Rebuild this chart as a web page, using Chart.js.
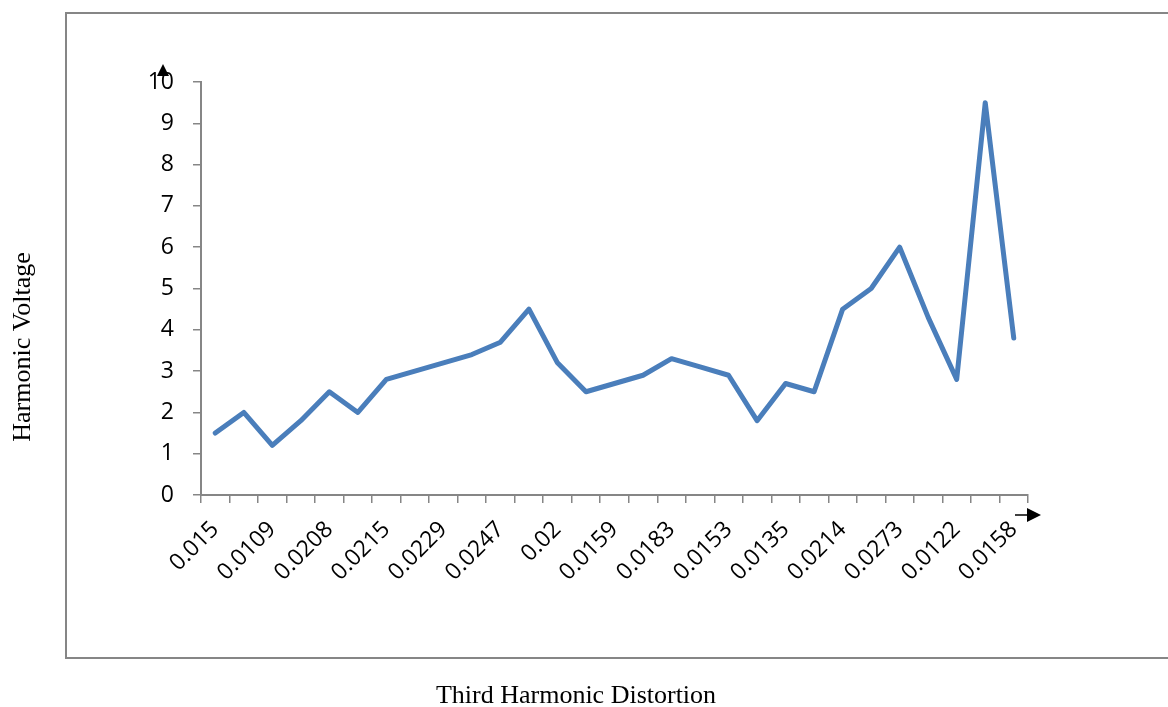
<!DOCTYPE html>
<html>
<head>
<meta charset="utf-8">
<script src="https://cdn.jsdelivr.net/npm/chart.js@4/dist/chart.umd.min.js"></script>
<style>
  body { margin: 0; background: #fff; }
  #wrap { width: 1168px; height: 707px; }
</style>
</head>
<body>
<div id="wrap"><canvas id="grafica" width="1168" height="707"></canvas></div>
<script>
// categories (only every other label is printed on the axis)
var categorias = ['0.015', '', '0.0109', '', '0.0208', '', '0.0215', '', '0.0229', '', '0.0247', '', '0.02', '',
    '0.0159', '', '0.0183', '', '0.0153', '', '0.0135', '', '0.0214', '', '0.0273', '', '0.0122', '', '0.0158'];
var voltaje = [1.5, 2.0, 1.2, 1.8, 2.5, 2.0, 2.8, 3.0, 3.2, 3.4, 3.7, 4.5, 3.2, 2.5, 2.7, 2.9, 3.3, 3.1, 2.9,
    1.8, 2.7, 2.5, 4.5, 5.0, 6.0, 4.3, 2.8, 9.5, 3.8];
var ticksY = [0, 1, 2, 3, 4, 5, 6, 7, 8, 9, 10];
var tituloX = 'Third Harmonic Distortion';
var tituloY = 'Harmonic Voltage';

var gris = '#868686';

// frame, arrows and axis titles
var decorado = {
    id: 'decorado',
    beforeDraw: function(chart) {
        var ctx = chart.ctx;
        ctx.save();
        ctx.strokeStyle = gris;
        ctx.lineWidth = 2;
        ctx.strokeRect(66, 13, 1120, 645);
        ctx.restore();
    },
    afterDraw: function(chart) {
        var ctx = chart.ctx;
        var x = chart.scales.x, y = chart.scales.y;
        ctx.save();
        ctx.fillStyle = '#000';
        ctx.strokeStyle = '#000';
        // up arrow
        var ax = y.right - 38, ay = y.getPixelForValue(10) - 18;
        ctx.beginPath();
        ctx.moveTo(ax, ay);
        ctx.lineTo(ax + 6, ay + 12);
        ctx.lineTo(ax - 6, ay + 12);
        ctx.closePath();
        ctx.fill();
        // right arrow
        var bx = x.right + 13, by = y.bottom + 20;
        ctx.lineWidth = 1.5;
        ctx.beginPath();
        ctx.moveTo(x.right - 13, by);
        ctx.lineTo(bx - 12, by);
        ctx.stroke();
        ctx.beginPath();
        ctx.moveTo(bx, by);
        ctx.lineTo(bx - 14, by - 7);
        ctx.lineTo(bx - 14, by + 7);
        ctx.closePath();
        ctx.fill();
        // titles
        ctx.font = '26px "Liberation Serif", "Times New Roman", serif';
        ctx.textAlign = 'center';
        ctx.textBaseline = 'middle';
        ctx.fillText(tituloX, 576, 696);
        ctx.translate(23, 347);
        ctx.rotate(-Math.PI / 2);
        ctx.fillText(tituloY, 0, 0);
        ctx.restore();
    }
};

var ctx = document.getElementById('grafica').getContext('2d');
var grafica = new Chart(ctx, {
    type: 'line',
    data: {
        labels: categorias,
        datasets: [{
            label: tituloY,
            data: voltaje,
            borderColor: '#4A7EBB',
            borderWidth: 5,
            borderJoinStyle: 'round',
            borderCapStyle: 'round',
            pointRadius: 0,
            fill: false,
            tension: 0
        }]
    },
    options: {
        responsive: false,
        animation: false,
        layout: { padding: { top: 82, right: 140, bottom: 0, left: 0 } },
        plugins: { legend: { display: false }, tooltip: { enabled: false } },
        scales: {
            x: {
                offset: true,
                border: { color: gris, width: 2 },
                grid: { offset: true, drawOnChartArea: false, drawTicks: true, tickLength: 8, color: gris, lineWidth: 1.5 },
                ticks: {
                    autoSkip: false,
                    minRotation: 45,
                    maxRotation: 45,
                    padding: 13,
                    color: '#000',
                    font: { family: '"Open Sans"', size: 23 }
                },
                afterFit: function(scale) { scale.height = 212; }
            },
            y: {
                min: 0,
                max: 10,
                afterBuildTicks: function(scale) { scale.ticks = ticksY.map(v => ({ value: v })); },
                border: { color: gris, width: 2 },
                grid: { drawOnChartArea: false, drawTicks: true, tickLength: 8, color: gris, lineWidth: 1.5 },
                ticks: {
                    padding: 19,
                    color: '#000',
                    font: { family: '"Open Sans"', size: 23 }
                },
                afterFit: function(scale) { scale.width = 201; }
            }
        }
    },
    plugins: [decorado]
});
</script>
</body>
</html>
